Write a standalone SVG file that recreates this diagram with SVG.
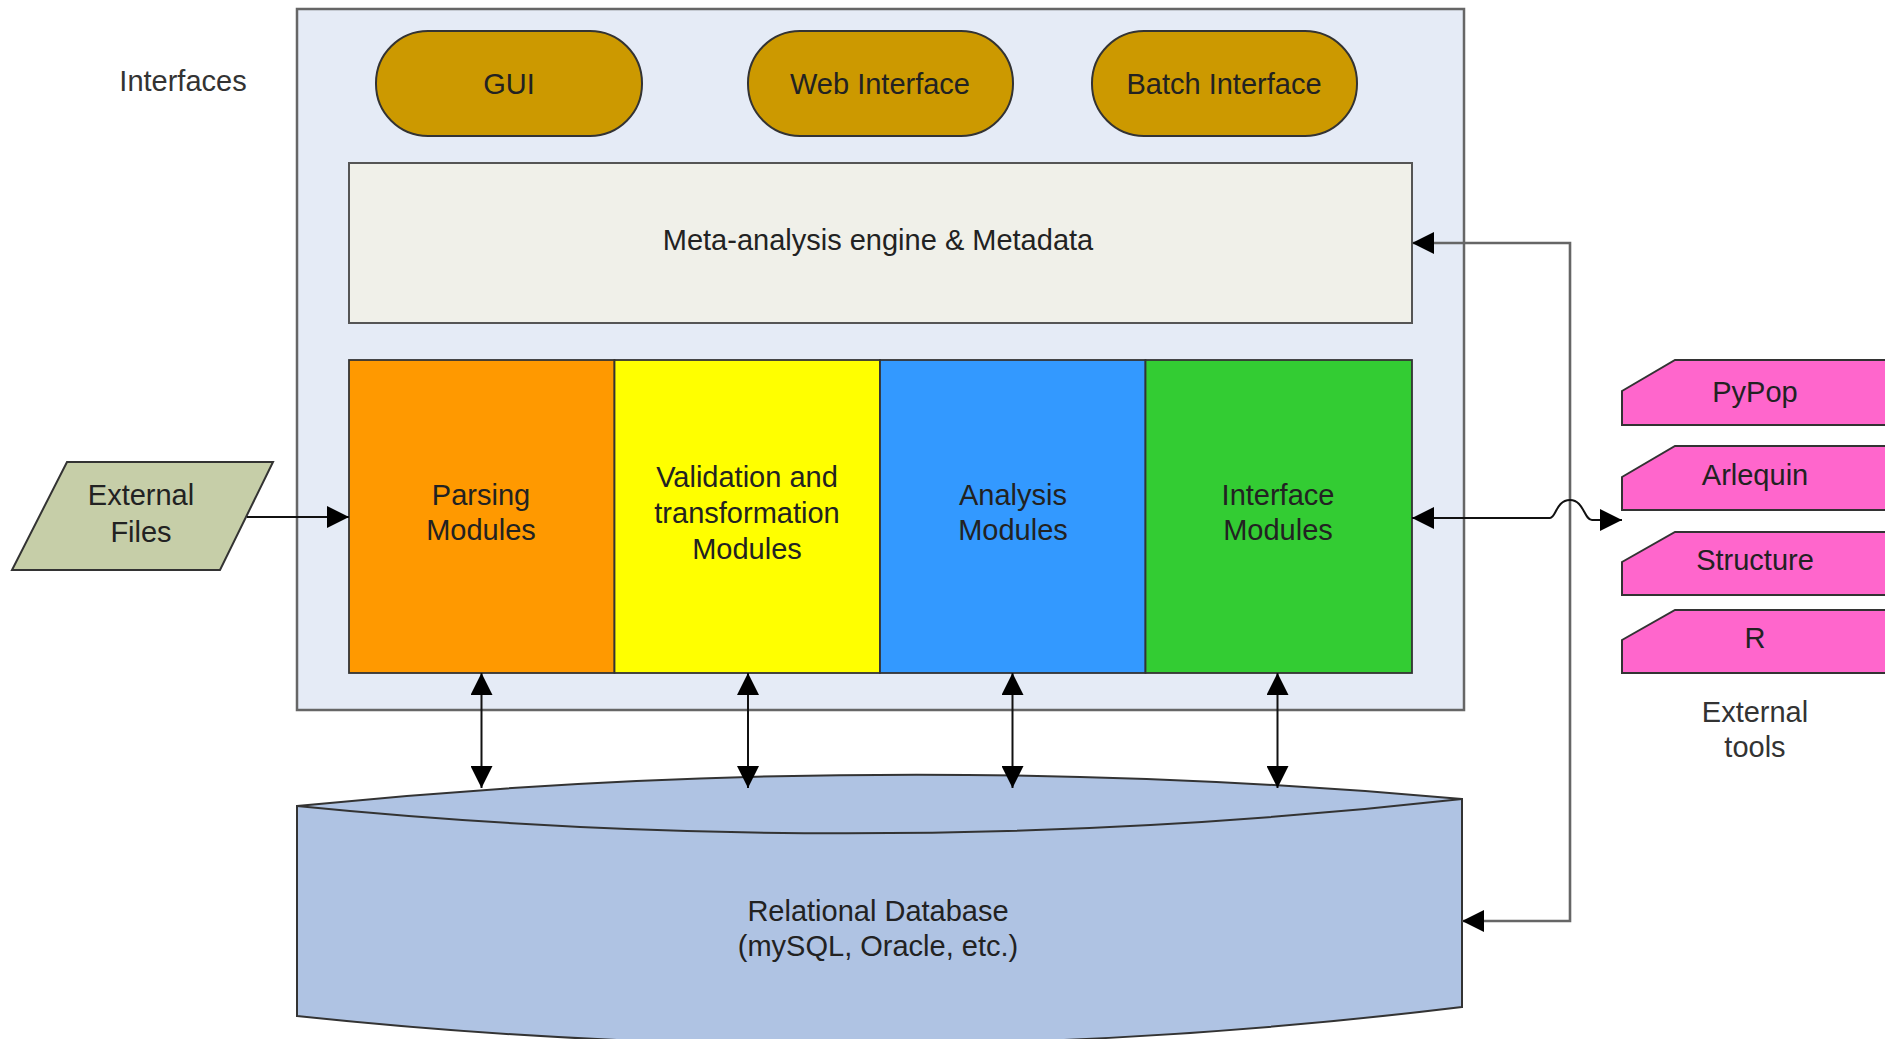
<svg xmlns="http://www.w3.org/2000/svg" width="1885" height="1039" viewBox="0 0 1885 1039">
<style>
text{font-family:"Liberation Sans",Arial,sans-serif;font-size:29px;fill:#222;text-anchor:middle}
.lbl{fill:#333}
.pill{fill:#CC9900;stroke:#333;stroke-width:2}
.mod{stroke:#333;stroke-width:1.8}
.tool{fill:#FF66CC;stroke:#333;stroke-width:2}
.ln{fill:none;stroke:#111;stroke-width:2}
.bus{fill:none;stroke:#666;stroke-width:2.6}
</style>
<defs>
<marker id="ah" viewBox="0 0 22 22" refX="22" refY="11" markerWidth="22" markerHeight="22" markerUnits="userSpaceOnUse" orient="auto-start-reverse">
<path d="M0,0 L22,11 L0,22 Z" fill="#000"/>
</marker>
</defs>
<rect width="1885" height="1039" fill="#fff"/>
<g id="container">
<rect x="297" y="9" width="1167" height="701" fill="#E5EBF6" stroke="#666" stroke-width="2.5"/>
</g>
<text class="lbl" x="183" y="91">Interfaces</text>
<g id="gui"><rect class="pill" x="376" y="31" width="266" height="105" rx="52" ry="52"/><text x="509" y="94">GUI</text></g>
<g id="web"><rect class="pill" x="748" y="31" width="265" height="105" rx="52" ry="52"/><text x="880" y="94">Web Interface</text></g>
<g id="batch"><rect class="pill" x="1092" y="31" width="265" height="105" rx="52" ry="52"/><text x="1224" y="94">Batch Interface</text></g>
<g id="meta"><rect x="349" y="163" width="1063" height="160" fill="#F0F0E9" stroke="#555" stroke-width="2"/><text x="878" y="250">Meta-analysis engine &amp; Metadata</text></g>
<g id="parsing"><rect class="mod" x="349" y="360" width="265.5" height="313" fill="#FF9900"/><text x="481" y="505">Parsing</text><text x="481" y="540">Modules</text></g>
<g id="validation"><rect class="mod" x="614.5" y="360" width="265.5" height="313" fill="#FFFF00"/><text x="747" y="487">Validation and</text><text x="747" y="523">transformation</text><text x="747" y="559">Modules</text></g>
<g id="analysis"><rect class="mod" x="880" y="360" width="265.5" height="313" fill="#3399FF"/><text x="1013" y="505">Analysis</text><text x="1013" y="540">Modules</text></g>
<g id="interface"><rect class="mod" x="1145.5" y="360" width="266.5" height="313" fill="#33CC33"/><text x="1278" y="505">Interface</text><text x="1278" y="540">Modules</text></g>
<g id="extfiles"><polygon points="67,462 273,462 220,570 12,570" fill="#C6CEA8" stroke="#333" stroke-width="2"/><text x="141" y="505">External</text><text x="141" y="542">Files</text></g>
<g id="database">
<path d="M297,806 Q880,747 1462,799 L1462,1007 Q880,1078 297,1016 Z" fill="#AFC3E3" stroke="#333" stroke-width="2"/>
<path d="M297,806 Q880,864 1462,799" fill="none" stroke="#333" stroke-width="2"/>
<text x="878" y="921">Relational Database</text>
<text x="878" y="956">(mySQL, Oracle, etc.)</text>
</g>
<g id="pypop"><polygon class="tool" points="1622,391 1675,360 1890,360 1890,425 1622,425"/><text x="1755" y="402">PyPop</text></g>
<g id="arlequin"><polygon class="tool" points="1622,477 1675,446 1890,446 1890,510 1622,510"/><text x="1755" y="485">Arlequin</text></g>
<g id="structure"><polygon class="tool" points="1622,562 1675,532 1890,532 1890,595 1622,595"/><text x="1755" y="570">Structure</text></g>
<g id="r"><polygon class="tool" points="1622,640 1675,610 1890,610 1890,673 1622,673"/><text x="1755" y="648">R</text></g>
<text class="lbl" x="1755" y="722">External</text>
<text class="lbl" x="1755" y="757">tools</text>
<g id="connectors">
<line class="ln" x1="247" y1="517" x2="349" y2="517" marker-end="url(#ah)"/>
<line class="ln" x1="481.5" y1="673" x2="481.5" y2="788" marker-start="url(#ah)" marker-end="url(#ah)"/>
<line class="ln" x1="748" y1="673" x2="748" y2="788" marker-start="url(#ah)" marker-end="url(#ah)"/>
<line class="ln" x1="1012.5" y1="673" x2="1012.5" y2="788" marker-start="url(#ah)" marker-end="url(#ah)"/>
<line class="ln" x1="1277.5" y1="673" x2="1277.5" y2="788" marker-start="url(#ah)" marker-end="url(#ah)"/>
<path class="bus" d="M1412,243 L1570,243 L1570,921 L1462,921" marker-start="url(#ah)" marker-end="url(#ah)"/>
<path class="ln" d="M1412,518 L1550,518 C1556,518 1556,500 1570,500 C1584,500 1584,520 1592,520 L1622,520" marker-start="url(#ah)" marker-end="url(#ah)"/>
</g>
</svg>
